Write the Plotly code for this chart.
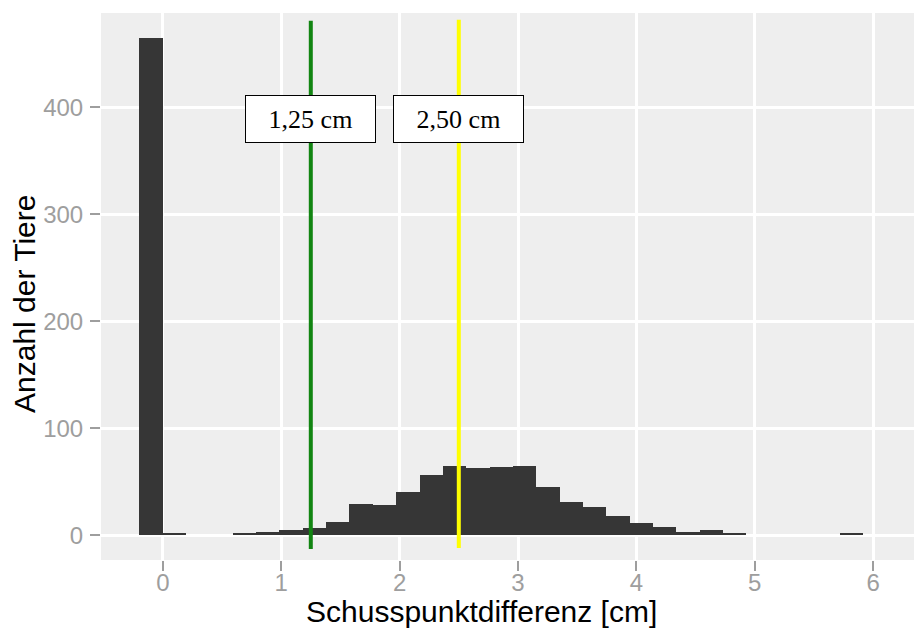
import plotly.graph_objects as go

# Histogram data (bins of equal width, first bin starts one width below zero)
bin_width = 0.1971
bin_start = -0.1971
counts = [465, 2, 0, 0, 2, 3, 5, 7, 12, 29, 28, 40, 56, 65, 63, 64, 65, 45, 31, 26,
          18, 11, 8, 3, 5, 2, 0, 0, 0, 0, 2]

# Reference lines
line_x = [1.25, 2.50]
line_colors = ["#128512", "#FFFF00"]
line_y0 = [-13, -12]
line_y1 = [481, 482]
label_texts = ["1,25 cm", "2,50 cm"]
label_y = 389

x_ticks = [0, 1, 2, 3, 4, 5, 6]
y_ticks = [0, 100, 200, 300, 400]
x_title = "Schusspunktdifferenz [cm]"
y_title = "Anzahl der Tiere"

centers = [bin_start + (i + 0.5) * bin_width for i in range(len(counts))]

fig = go.Figure()
fig.add_trace(go.Bar(x=centers, y=counts, width=bin_width,
                     marker=dict(color="#363636", line=dict(width=0)),
                     hoverinfo="skip", showlegend=False))

for xv, c, y0, y1 in zip(line_x, line_colors, line_y0, line_y1):
    fig.add_trace(go.Scatter(x=[xv, xv], y=[y0, y1], mode="lines",
                             line=dict(color=c, width=4), showlegend=False,
                             hoverinfo="skip"))

for xv, t in zip(line_x, label_texts):
    fig.add_annotation(x=xv, y=label_y, text=t, showarrow=False,
                       font=dict(family="Liberation Serif", size=26, color="black"),
                       bgcolor="white", bordercolor="black", borderwidth=1,
                       borderpad=0, width=129, height=46, xanchor="center", yanchor="middle")

# axis titles (placed as in the reference, slightly off the panel centre)
fig.add_annotation(xref="paper", yref="paper", x=0.4669, y=-0.095, text=x_title,
                   showarrow=False, xanchor="center", yanchor="middle",
                   font=dict(family="Liberation Sans", size=30, color="black"))
fig.add_annotation(xref="paper", yref="paper", x=-0.0944, y=0.468, text=y_title,
                   showarrow=False, xanchor="center", yanchor="middle", textangle=-90,
                   font=dict(family="Liberation Sans", size=30, color="black"))

grey = "#9E9E9E"
# the page body has an 8px margin, so the figure is sized to fill the rest
fig.update_layout(
    width=914, height=624,
    margin=dict(l=93, r=5, t=5, b=72),
    plot_bgcolor="#EEEEEE", paper_bgcolor="white",
    bargap=0,
    font=dict(family="Liberation Sans"),
    xaxis=dict(range=[-0.522, 6.37], tickvals=x_ticks, ticktext=[str(v) for v in x_ticks],
               showgrid=True, gridcolor="white", gridwidth=2.5, zeroline=False,
               ticks="outside", ticklen=10, tickwidth=2, tickcolor=grey,
               tickfont=dict(size=24, color=grey), automargin=False,
               ticklabelstandoff=-9, showline=False),
    yaxis=dict(range=[-23.25, 488.25], tickvals=y_ticks, ticktext=[str(v) for v in y_ticks],
               showgrid=True, gridcolor="white", gridwidth=2.5, zeroline=False,
               ticks="outside", ticklen=10, tickwidth=2, tickcolor=grey,
               tickfont=dict(size=24, color=grey), automargin=False,
               ticklabelstandoff=2, showline=False),
)

fig.write_html("out.html")
